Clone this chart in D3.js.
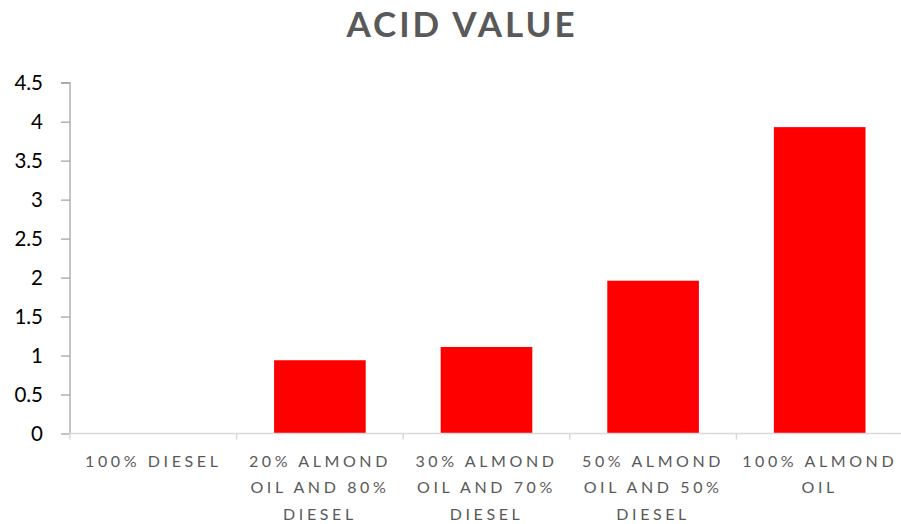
<!DOCTYPE html>
<html><head><meta charset="utf-8">
<script src="https://cdn.jsdelivr.net/npm/d3@7"></script>
<style>body{margin:0;background:#fff}svg{display:block}</style>
</head><body><div id="chart"></div>
<script>
const categories = ["100% DIESEL","20% ALMOND OIL AND 80% DIESEL","30% ALMOND OIL AND 70% DIESEL","50% ALMOND OIL AND 50% DIESEL","100% ALMOND OIL"];
const values = [0, 0.94, 1.11, 1.96, 3.93];
const yTicks = [0,0.5,1,1.5,2,2.5,3,3.5,4,4.5];
const title = "ACID VALUE";

const W=901,H=524;
const m={left:70,right:-2,top:82.7,bottom:90.5};
const svg=d3.select("#chart").append("svg").attr("width",W).attr("height",H);
const x=d3.scaleBand().domain(categories).range([m.left,W-m.right]).paddingInner(0.45).paddingOuter(0.225);
const y=d3.scaleLinear().domain([0,4.5]).range([H-m.bottom,m.top]);

svg.append("text").attr("x",462).attr("y",37).attr("text-anchor","middle")
 .attr("font-family","Lato, 'Open Sans', sans-serif").attr("font-weight","bold").attr("font-size",35)
 .attr("letter-spacing",3).attr("fill","#595959").text(title);

svg.selectAll("rect.bar").data(values).join("rect").attr("class","bar")
 .attr("x",(d,i)=>x(categories[i])).attr("width",x.bandwidth())
 .attr("y",d=>y(d)).attr("height",d=>y(0)-y(d)).attr("fill","#ff0000");

// y axis
const ya=svg.append("g").attr("transform",`translate(${m.left},0)`)
 .call(d3.axisLeft(y).tickValues(yTicks).tickSize(9).tickPadding(18).tickFormat(d3.format("")));
ya.select(".domain").attr("stroke","#a6a6a6").attr("stroke-width",1.3).attr("d",`M-9,${y(4.5)}H0V${y(0)}`);
ya.selectAll(".tick line").attr("stroke","#a6a6a6").attr("stroke-width",1.3);
ya.selectAll(".tick text").attr("font-family","Lato, sans-serif").attr("font-size",20.5).attr("fill","#000").attr("dy","0.35em").attr("x",-27);

// x axis
const xb=d3.scaleLinear().domain([0,5]).range([m.left,W-m.right]);
const xa=svg.append("g").attr("transform",`translate(0,${y(0)})`);
xa.append("line").attr("x1",m.left).attr("x2",W).attr("stroke","#d9d9d9").attr("stroke-width",1.5);
xa.selectAll("line.t").data(d3.range(0,6)).join("line").attr("class","t")
 .attr("x1",d=>xb(d)).attr("x2",d=>xb(d)).attr("y1",0).attr("y2",6).attr("stroke","#d9d9d9").attr("stroke-width",1.5);

const labels=svg.append("g");
categories.forEach((c,i)=>{
  const t=labels.append("text").attr("x",x(c)+x.bandwidth()/2).attr("y",y(0)+33)
   .attr("text-anchor","middle").attr("font-family","Lato, sans-serif").attr("font-size",16)
   .attr("letter-spacing",3.6).attr("fill","#595959");
  const words=c.split(" ");let line=[];
  let ts=t.append("tspan").attr("x",x(c)+x.bandwidth()/2).attr("dy",0);
  words.forEach(w=>{
    line.push(w);ts.text(line.join(" "));
    if(ts.node().getComputedTextLength()>166 && line.length>1){
      line.pop();ts.text(line.join(" "));line=[w];
      ts=t.append("tspan").attr("x",x(c)+x.bandwidth()/2).attr("dy",26.5).text(w);
    }
  });
});
</script></body></html>
